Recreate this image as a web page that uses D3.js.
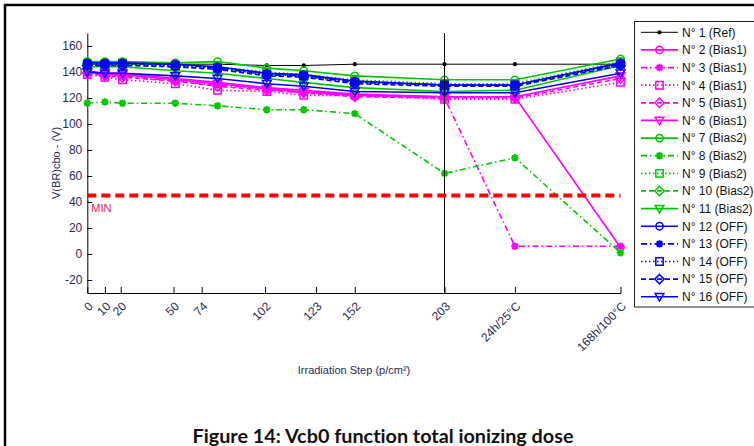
<!DOCTYPE html>
<html>
<head>
<meta charset="utf-8">
<script src="https://cdn.jsdelivr.net/npm/d3@7"></script>
<style>
  html, body { margin: 0; padding: 0; background: #fff; }
  svg { display: block; }
</style>
</head>
<body>
<svg id="chart" width="754" height="446"></svg>
<script>
// Irradiation steps: tick labels, where each tick sits on the dose axis, and where the measurements sit
const stepLabels = ["0", "10", "20", "50", "74", "102", "123", "152", "203", "24h/25°C", "168h/100°C"];
const tickDose   = [0, 10, 19, 49, 65, 101, 130, 152, 203, 243, 303];
const pointDose  = [0, 10, 20, 50, 74, 102, 123, 152, 203, 243, 303];

const yTicks = [-20, 0, 20, 40, 60, 80, 100, 120, 140, 160];
const minLimit = 45;      // specification minimum, V
const markerDose = 203;   // end of irradiation

// V(BR)cbo per device (V), one value per step
const n1  = [146, 146, 146, 146, 146, 145, 145, 146, 146, 146, 146];
const n2  = [141, 139, 139, 135, 132, 128, 126, 123, 121, 121, 5];
const n3  = [140, 138, 137, 133, 130, 127, 124, 122, 120, 6, 6];
const n4  = [138, 136, 134, 131, 126, 125, 122, 122, 119, 119, 132];
const n5  = [139, 137, 136, 133, 129, 126, 124, 121, 120, 120, 135];
const n6  = [140, 138, 138, 134, 131, 127, 125, 122, 121, 121, 137];
const n7  = [148, 148, 148, 147, 148, 143, 141, 137, 134, 134, 150];
const n8  = [116, 117, 116, 116, 114, 111, 111, 108, 62, 74, 1];
const n9  = [146, 146, 147, 145, 144, 140, 138, 134, 131, 131, 148];
const n10 = [145, 145, 146, 144, 143, 139, 137, 133, 130, 130, 147];
const n11 = [144, 144, 144, 141, 139, 135, 132, 128, 125, 126, 145];
const n12 = [147, 147, 147, 146, 144, 139, 138, 133, 130, 130, 147];
const n13 = [147, 146, 147, 146, 143, 138, 137, 132, 130, 130, 146];
const n14 = [146, 146, 146, 145, 143, 138, 137, 132, 130, 130, 146];
const n15 = [145, 145, 145, 144, 142, 137, 136, 131, 129, 129, 145];
const n16 = [140, 139, 139, 137, 135, 131, 129, 125, 124, 124, 139];

const seriesNames = ["N° 1 (Ref)", "N° 2 (Bias1)", "N° 3 (Bias1)", "N° 4 (Bias1)", "N° 5 (Bias1)",
  "N° 6 (Bias1)", "N° 7 (Bias2)", "N° 8 (Bias2)", "N° 9 (Bias2)", "N° 10 (Bias2)", "N° 11 (Bias2)",
  "N° 12 (OFF)", "N° 13 (OFF)", "N° 14 (OFF)", "N° 15 (OFF)", "N° 16 (OFF)"];
const seriesValues = [n1, n2, n3, n4, n5, n6, n7, n8, n9, n10, n11, n12, n13, n14, n15, n16];

// line style per device: colour, dash, marker
const MAG = "#ff00ff", GRN = "#00c800", BLU = "#0000ff";
const DASH = { solid: null, dashdot: "6,3,1.5,3", dotted: "1.5,2.5", dashed: "5,3" };
const styles = [
  { c: "#000000", d: "solid",   m: "dot", w: 1 },
  { c: MAG, d: "solid",   m: "circle" },
  { c: MAG, d: "dashdot", m: "star" },
  { c: MAG, d: "dotted",  m: "square" },
  { c: MAG, d: "dashed",  m: "diamond" },
  { c: MAG, d: "solid",   m: "tridown" },
  { c: GRN, d: "solid",   m: "circle" },
  { c: GRN, d: "dashdot", m: "star" },
  { c: GRN, d: "dotted",  m: "square" },
  { c: GRN, d: "dashed",  m: "diamond" },
  { c: GRN, d: "solid",   m: "tridown" },
  { c: BLU, d: "solid",   m: "circle" },
  { c: BLU, d: "dashdot", m: "star" },
  { c: BLU, d: "dotted",  m: "square" },
  { c: BLU, d: "dashed",  m: "diamond" },
  { c: BLU, d: "solid",   m: "tridown" }
];

const svg = d3.select("#chart");
const FONT = "'Liberation Sans', Arial, sans-serif";
const TXT = "#2b2b55";

// outer figure frame
svg.append("rect").attr("x", 5).attr("y", 5).attr("width", 820).attr("height", 520)
  .attr("fill", "none").attr("stroke", "#000").attr("stroke-width", 2.5);

const x = d3.scaleLinear().domain([0, 303]).range([87.3, 620.5]);
const y = d3.scaleLinear().domain([-30, 170]).range([293, 33]);

// marker path generator (centred at 0,0)
function markerPath(type) {
  switch (type) {
    case "circle": return d3.symbol(d3.symbolCircle, 42)();
    case "square": return "M-3.7,-3.7H3.7V3.7H-3.7Z";
    case "diamond": return "M0,-4.7L4.7,0L0,4.7L-4.7,0Z";
    case "tridown": return "M-4.3,-3.2L4.3,-3.2L0,4.3Z";
    case "star": return "M-3.7,0H3.7M0,-3.7V3.7M-2.7,-2.7L2.7,2.7M-2.7,2.7L2.7,-2.7";
    case "dot": return d3.symbol(d3.symbolCircle, 6)();
  }
}
function drawMarker(g, type, color, cx, cy) {
  const p = g.append("path").attr("d", markerPath(type))
    .attr("transform", `translate(${cx},${cy})`)
    .attr("stroke", color).attr("stroke-width", type === "star" ? 2 : 1.5);
  if (type === "dot") p.attr("fill", color);
  else p.attr("fill", "none");
}

// axes
const yAxis = d3.axisLeft(y).tickValues(yTicks).tickSizeInner(-5).tickSizeOuter(0).tickPadding(5)
  .tickFormat(d => String(d));
const gy = svg.append("g").attr("transform", `translate(${x(0)},0)`).call(yAxis);
gy.selectAll("text").attr("font-family", FONT).attr("font-size", 12).attr("fill", TXT);

const xAxis = d3.axisBottom(x).tickValues(tickDose).tickSizeInner(-6).tickSizeOuter(0)
  .tickFormat((d, i) => stepLabels[i]);
const gx = svg.append("g").attr("transform", `translate(0,${y(-30)})`).call(xAxis);
gx.selectAll("text")
  .attr("font-family", FONT).attr("font-size", 12).attr("fill", TXT)
  .attr("text-anchor", "end").attr("x", 0).attr("y", 0).attr("dy", "0.35em")
  .attr("transform", "translate(3,11) rotate(-45)");
[gx, gy].forEach(g => {
  g.select(".domain").attr("stroke", "#000");
  g.selectAll(".tick line").attr("stroke", "#000");
});

// axis titles
svg.append("text").attr("x", 354).attr("y", 374).attr("text-anchor", "middle")
  .attr("font-family", FONT).attr("font-size", 11).attr("fill", TXT)
  .text("Irradiation Step (p/cm²)");
svg.append("text").attr("transform", `translate(60,${(y(-30) + y(170)) / 2}) rotate(-90)`)
  .attr("text-anchor", "middle")
  .attr("font-family", FONT).attr("font-size", 11).attr("fill", TXT)
  .text("V(BR)cbo - (V)");

// device curves
const line = d3.line().x((d, i) => x(pointDose[i])).y(d => y(d));
const plot = svg.append("g");
seriesValues.forEach((vals, k) => {
  const s = styles[k];
  const g = plot.append("g");
  g.append("path").datum(vals).attr("d", line)
    .attr("fill", "none").attr("stroke", s.c).attr("stroke-width", s.w || 1.6)
    .attr("stroke-dasharray", DASH[s.d]);
  vals.forEach((v, i) => drawMarker(g, s.m, s.c, x(pointDose[i]), y(v)));
});

// end-of-irradiation marker and the minimum limit
svg.append("line").attr("x1", x(markerDose)).attr("x2", x(markerDose))
  .attr("y1", y(170)).attr("y2", y(-30)).attr("stroke", "#000").attr("stroke-width", 1);
svg.append("line").attr("x1", x(0)).attr("x2", x(303))
  .attr("y1", y(minLimit)).attr("y2", y(minLimit))
  .attr("stroke", "#ff0000").attr("stroke-width", 4).attr("stroke-dasharray", "9,5");
svg.append("text").attr("x", x(0) + 4).attr("y", y(minLimit) + 16)
  .attr("font-family", FONT).attr("font-size", 11).attr("fill", "#e0206a").text("MIN");

// legend
const leg = svg.append("g");
leg.append("rect").attr("x", 634.5).attr("y", 21.5).attr("width", 200).attr("height", 285.5)
  .attr("fill", "#fff").attr("stroke", "#222").attr("stroke-width", 1);
seriesNames.forEach((name, k) => {
  const s = styles[k];
  const cy = 32.3 + k * 17.63;
  leg.append("line").attr("x1", 641).attr("x2", 678).attr("y1", cy).attr("y2", cy)
    .attr("stroke", s.c).attr("stroke-width", s.w || 1.7).attr("stroke-dasharray", DASH[s.d]);
  drawMarker(leg, s.m, s.c, 659.5, cy);
  leg.append("text").attr("x", 682).attr("y", cy).attr("dy", "0.36em")
    .attr("font-family", FONT).attr("font-size", 12).attr("fill", "#111").text(name);
});

// caption
svg.append("text").attr("x", 383).attr("y", 443).attr("text-anchor", "middle")
  .attr("font-family", "Lato, 'Open Sans', sans-serif").attr("font-weight", "bold")
  .attr("font-size", 18.5).attr("fill", "#111")
  .style("font-variant-ligatures", "none")
  .attr("textLength", 381).attr("lengthAdjust", "spacingAndGlyphs")
  .text("Figure 14: Vcb0 function total ionizing dose");
</script>
</body>
</html>
